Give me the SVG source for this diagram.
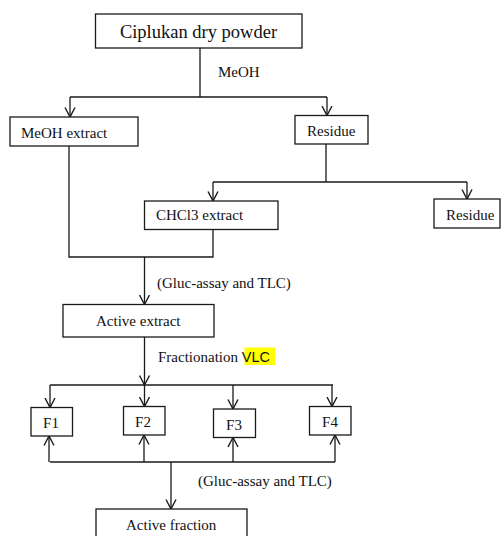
<svg xmlns="http://www.w3.org/2000/svg" width="501" height="536" viewBox="0 0 501 536">
<style>
.box{fill:#fff;stroke:#1a1a1a;stroke-width:1.3}
.t{font-family:"Liberation Serif","Times New Roman",serif;font-size:15px;fill:#111}
.big{font-size:18.5px}
.c{text-anchor:middle}
.sans{font-family:"Liberation Sans",Arial,sans-serif;font-size:14.5px}
.ln{fill:none;stroke:#1a1a1a;stroke-width:1.3}
.ar{fill:none;stroke:#1a1a1a;stroke-width:1.3;marker-end:url(#ah)}
</style>
<defs>
<marker id="ah" markerUnits="userSpaceOnUse" markerWidth="12" markerHeight="12" refX="10" refY="5.5" orient="auto" viewBox="0 0 12 11">
<path d="M0.5,0.5 L10,5.5 L0.5,10.5" fill="none" stroke="#1a1a1a" stroke-width="1.4"/>
</marker>
</defs>
<rect width="501" height="536" fill="#fff"/>
<g id="connectors">
<path class="ln" d="M200,48 V97 M70,97 H327"/>
<path class="ar" d="M70,97 V117"/>
<path class="ar" d="M327,97 V115.5"/>
<path class="ln" d="M69,146 V257 H213 V229.5"/>
<path class="ln" d="M326,144 V182 M213,182 H467"/>
<path class="ar" d="M213,182 V201"/>
<path class="ar" d="M467,182 V199"/>
<path class="ar" d="M144.5,257 V304.5"/>
<path class="ar" d="M144.5,337 V385"/>
<path class="ln" d="M50,385 H333"/>
<path class="ar" d="M50,385 V407.5"/>
<path class="ar" d="M144.5,385 V406.5"/>
<path class="ar" d="M233,385 V409"/>
<path class="ar" d="M332,385 V406.5"/>
<path class="ar" d="M49,462 V436"/>
<path class="ar" d="M144,462 V435"/>
<path class="ar" d="M233,462 V437.5"/>
<path class="ar" d="M335,462 V435"/>
<path class="ln" d="M50,462 H335"/>
<path class="ar" d="M171,462 V509"/>
</g>
<g id="labels">
<text class="t" x="218" y="77">MeOH</text>
<text class="t" x="157" y="288">(Gluc-assay and TLC)</text>
<rect x="244.5" y="347.5" width="30.5" height="17.5" fill="#ffff00"/>
<text class="t" x="158" y="362">Fractionation <tspan class="sans">VLC</tspan></text>
<text class="t" x="198" y="486">(Gluc-assay and TLC)</text>
</g>
<g id="n-ciplukan"><rect class="box" x="95.5" y="14" width="206.5" height="34"/><text class="t c big" x="198.5" y="37.5">Ciplukan dry powder</text></g>
<g id="n-meoh-extract"><rect class="box" x="10" y="117" width="128" height="29"/><text class="t" x="21" y="137.5">MeOH extract</text></g>
<g id="n-residue1"><rect class="box" x="295" y="115.5" width="73" height="28.5"/><text class="t" x="307" y="136">Residue</text></g>
<g id="n-chcl3"><rect class="box" x="144.5" y="201" width="133.5" height="28.5"/><text class="t" x="156" y="220">CHCl3 extract</text></g>
<g id="n-residue2"><rect class="box" x="434" y="199" width="66" height="29"/><text class="t" x="446" y="220">Residue</text></g>
<g id="n-active-extract"><rect class="box" x="63" y="304.5" width="151" height="32.5"/><text class="t" x="96" y="326">Active extract</text></g>
<g id="n-f1"><rect class="box" x="31" y="407.5" width="41.5" height="28.5"/><text class="t c" x="51" y="428">F1</text></g>
<g id="n-f2"><rect class="box" x="123.5" y="406.5" width="41.5" height="28.5"/><text class="t c" x="143" y="427">F2</text></g>
<g id="n-f3"><rect class="box" x="213.5" y="409" width="42" height="28.5"/><text class="t c" x="234" y="430">F3</text></g>
<g id="n-f4"><rect class="box" x="309.5" y="406.5" width="41.5" height="28.5"/><text class="t c" x="330" y="427">F4</text></g>
<g id="n-active-fraction"><rect class="box" x="96" y="509" width="151" height="40"/><text class="t" x="126" y="530">Active fraction</text></g>
</svg>
